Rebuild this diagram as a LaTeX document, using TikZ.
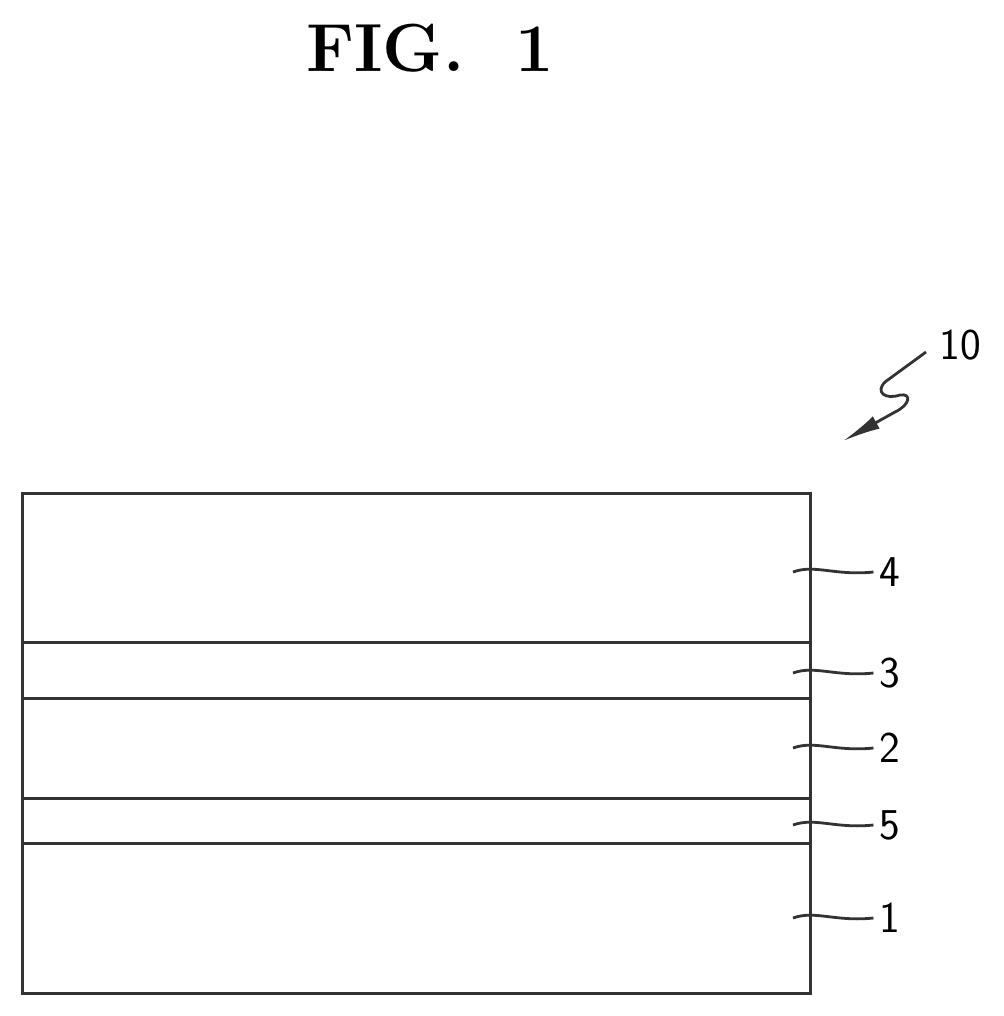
\documentclass[tikz,border=0pt]{standalone}
\usepackage{tikz}
\usetikzlibrary{positioning}
\usetikzlibrary{arrows.meta}
\begin{document}
\begin{tikzpicture}
    [x=1pt, y=-1pt,
    layer/.style={line width=3pt, black!80},
    lead/.style={line width=2.8pt, black!80},
    num/.style={font=\sffamily\fontsize{44}{44}\selectfont, inner sep=6pt}]
    \useasboundingbox (0,0) rectangle (1003,1016);
    \node[font=\bfseries\fontsize{68}{68}\selectfont] (Title) at (430,48) {FIG.\ \ 1};
    % stack of layers
    \draw[layer] (22,493) rectangle (810,993);
    \foreach \h in {642,698,798,843}
        \draw[layer] (22,\h) -- (810,\h);
    % layer labels
    \node[num] (L4) at (890,572) {4};
    \node[num] (L3) at (890,673) {3};
    \node[num] (L2) at (890,748) {2};
    \node[num] (L5) at (890,825) {5};
    \node[num] (L1) at (890,918) {1};
    \foreach \n/\h in {4/572,3/673,2/748,5/825,1/918}{
        \coordinate (W\n) at (793,\h);
        \draw[lead] (W\n) .. controls (815,\h-8) and (835,\h+4) .. (L\n.west);
    }
    % device
    \node[num] (L10) at (960,345) {10};
    \coordinate (S10) at (926,352);
    \coordinate (T10) at (843,441);
    \draw[lead, -{Latex[length=38pt, width=14pt]}] (S10) -- (885,382)
        .. controls (875,392) and (885,400) .. (900,395)
        .. controls (912,393) and (910,405) .. (895,412) -- (T10);
\end{tikzpicture}
\end{document}
